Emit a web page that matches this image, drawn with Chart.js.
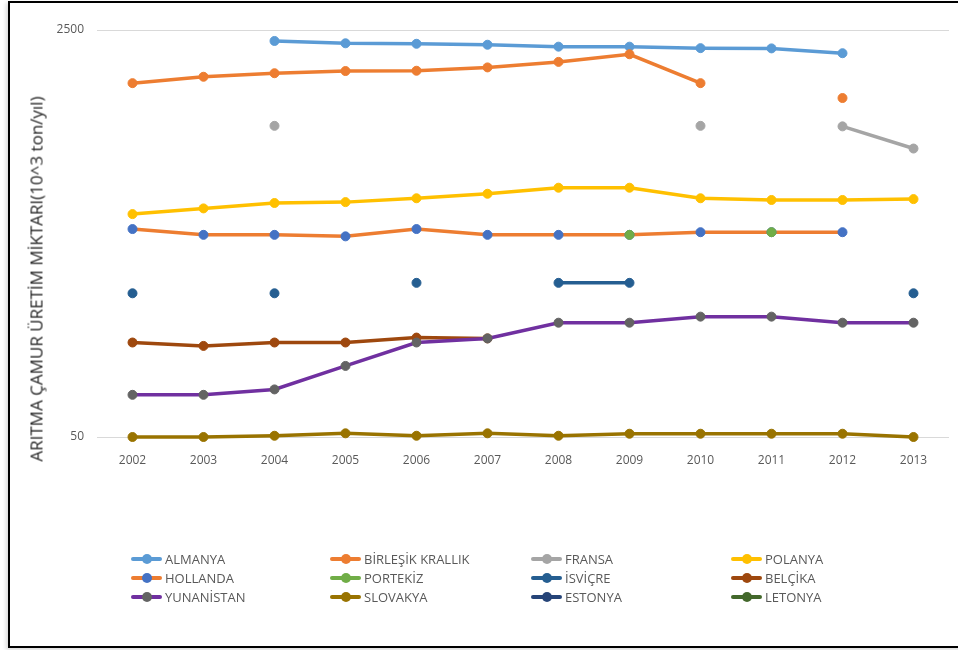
<!DOCTYPE html>
<html>
<head>
<meta charset="utf-8">
<script src="https://cdn.jsdelivr.net/npm/chart.js@4.4.1/dist/chart.umd.min.js"></script>
<style>
  body { margin: 0; width: 958px; height: 650px; overflow: hidden; background: #fff; font-family: 'Open Sans', sans-serif; }
  #frame { position: absolute; left: 8px; top: 1px; width: 980px; height: 643px; border: 2px solid #000; box-shadow: -2px 2px 4px rgba(0,0,0,0.15); }
  #chart { position: absolute; left: 0; top: 0; }
  #ytitle { position: absolute; left: 36px; top: 279px; transform: translate(-50%, -50%) rotate(-90deg); white-space: nowrap; font-size: 17px; color: #262626; }
  .leg { position: absolute; height: 20px; display: flex; align-items: center; font-size: 13px; color: #595959; white-space: nowrap; }
  .sw { position: relative; width: 31px; height: 20px; margin-right: 3px; }
  .sw .ln { position: absolute; left: 0; right: 0; top: 8px; height: 4px; border-radius: 2px; }
  .sw .dt { position: absolute; left: 10.5px; top: 5px; width: 10px; height: 10px; border-radius: 50%; }
</style>
</head>
<body>
<div id="frame"></div>
<canvas id="chart" width="958" height="650"></canvas>
<div id="ytitle">ARITMA ÇAMUR ÜRETİM MİKTARI(10^3 ton/yıl)</div>
<div id="legend"></div>
<script>
const years = ['2002', '2003', '2004', '2005', '2006', '2007', '2008', '2009', '2010', '2011', '2012', '2013'];
const yTicks = [50, 2500];

const almanya    = [null, null, 2250, 2200, 2190, 2170, 2130, 2130, 2100, 2095, 2000, null];
const birlesik   = [1500, 1595, 1650, 1685, 1690, 1745, 1840, 1980, 1500, null, 1300, null];
const fransa     = [null, null, 995, null, null, null, null, null, 995, null, 990, 800];
const polonya    = [426, 450, 474, 478, 496, 518, 549, 549, 496, 488, 488, 492];
const hollanda   = [369, 349, 349, 344, 369, 349, 349, 349, 358, 358, 358, null];
const portekiz   = [null, null, null, null, null, null, null, 349, null, 358, null, null];
const isvicre    = [199, null, 199, null, 220, null, 220, 220, null, null, null, 199];
const belcika    = [124, 120, 124, 124, 130, 129, null, null, null, null, null, null];
const yunanistan = [75, 75, 79, 99, 124, 129, 150, 150, 159, 159, 150, 150];
const slovakya   = [50, 50, 50.6, 51.8, 50.6, 51.8, 50.6, 51.6, 51.6, 51.6, 51.6, 50];
const estonya    = [null, null, null, null, null, null, null, null, null, null, null, null];
const letonya    = [null, null, null, null, null, null, null, null, null, null, null, null];

const series = [
    { name: 'ALMANYA', data: almanya, line: '#5B9BD5', dot: '#5B9BD5' },
    { name: 'BİRLEŞİK KRALLIK', data: birlesik, line: '#ED7D31', dot: '#ED7D31' },
    { name: 'FRANSA', data: fransa, line: '#A5A5A5', dot: '#A5A5A5' },
    { name: 'POLANYA', data: polonya, line: '#FFC000', dot: '#FFC000' },
    { name: 'HOLLANDA', data: hollanda, line: '#ED7D31', dot: '#4472C4' },
    { name: 'PORTEKİZ', data: portekiz, line: '#70AD47', dot: '#70AD47' },
    { name: 'İSVİÇRE', data: isvicre, line: '#255E91', dot: '#255E91' },
    { name: 'BELÇİKA', data: belcika, line: '#9E480E', dot: '#9E480E' },
    { name: 'YUNANİSTAN', data: yunanistan, line: '#7030A0', dot: '#636363' },
    { name: 'SLOVAKYA', data: slovakya, line: '#997300', dot: '#997300' },
    { name: 'ESTONYA', data: estonya, line: '#264478', dot: '#264478' },
    { name: 'LETONYA', data: letonya, line: '#43682B', dot: '#43682B' }
];

Chart.defaults.font.family = "'Open Sans', sans-serif";

let datasets = series.map((s, i) => ({
    label: s.name,
    data: s.data,
    borderColor: s.line,
    backgroundColor: s.dot,
    pointBackgroundColor: s.dot,
    pointBorderColor: s.dot,
    pointRadius: 4.5,
    pointBorderWidth: 1,
    borderWidth: 3.5,
    tension: 0,
    spanGaps: false,
    clip: false,
    order: -i
}));

let ctx = document.getElementById('chart').getContext('2d');

let myChart = new Chart(ctx, {
    type: 'line',
    data: { labels: years, datasets: datasets },
    options: {
        responsive: false,
        animation: false,
        layout: { padding: { left: 0, top: 30, right: 9, bottom: 173 } },
        plugins: {
            legend: { display: false },
            tooltip: { enabled: false }
        },
        scales: {
            x: {
                offset: true,
                grid: { display: false },
                border: { display: false },
                ticks: { color: '#595959', font: { size: 12 }, padding: 8, maxRotation: 0 },
                afterFit: (s) => { s.height = 40; }
            },
            y: {
                type: 'logarithmic',
                min: 50,
                max: 2500,
                afterBuildTicks: (s) => { s.ticks = yTicks.map(v => ({ value: v })); },
                grid: { color: '#D9D9D9', lineWidth: 1, drawTicks: false },
                border: { display: false },
                ticks: { color: '#595959', font: { size: 12 }, padding: 13, callback: (v) => String(v) },
                afterFit: (s) => { s.width = 97; }
            }
        }
    }
});

// legend in 4 columns like the original
let legendBox = document.getElementById('legend');
let colX = [131, 330, 531, 731];
let rowY = [549, 568, 587];
series.forEach((s, i) => {
    let item = document.createElement('div');
    item.className = 'leg';
    item.style.left = colX[i % 4] + 'px';
    item.style.top = rowY[Math.floor(i / 4)] + 'px';
    item.innerHTML = '<div class="sw"><div class="ln" style="background:' + s.line + '"></div>' +
        '<div class="dt" style="background:' + s.dot + '"></div></div><span>' + s.name + '</span>';
    legendBox.appendChild(item);
});
</script>
</body>
</html>
